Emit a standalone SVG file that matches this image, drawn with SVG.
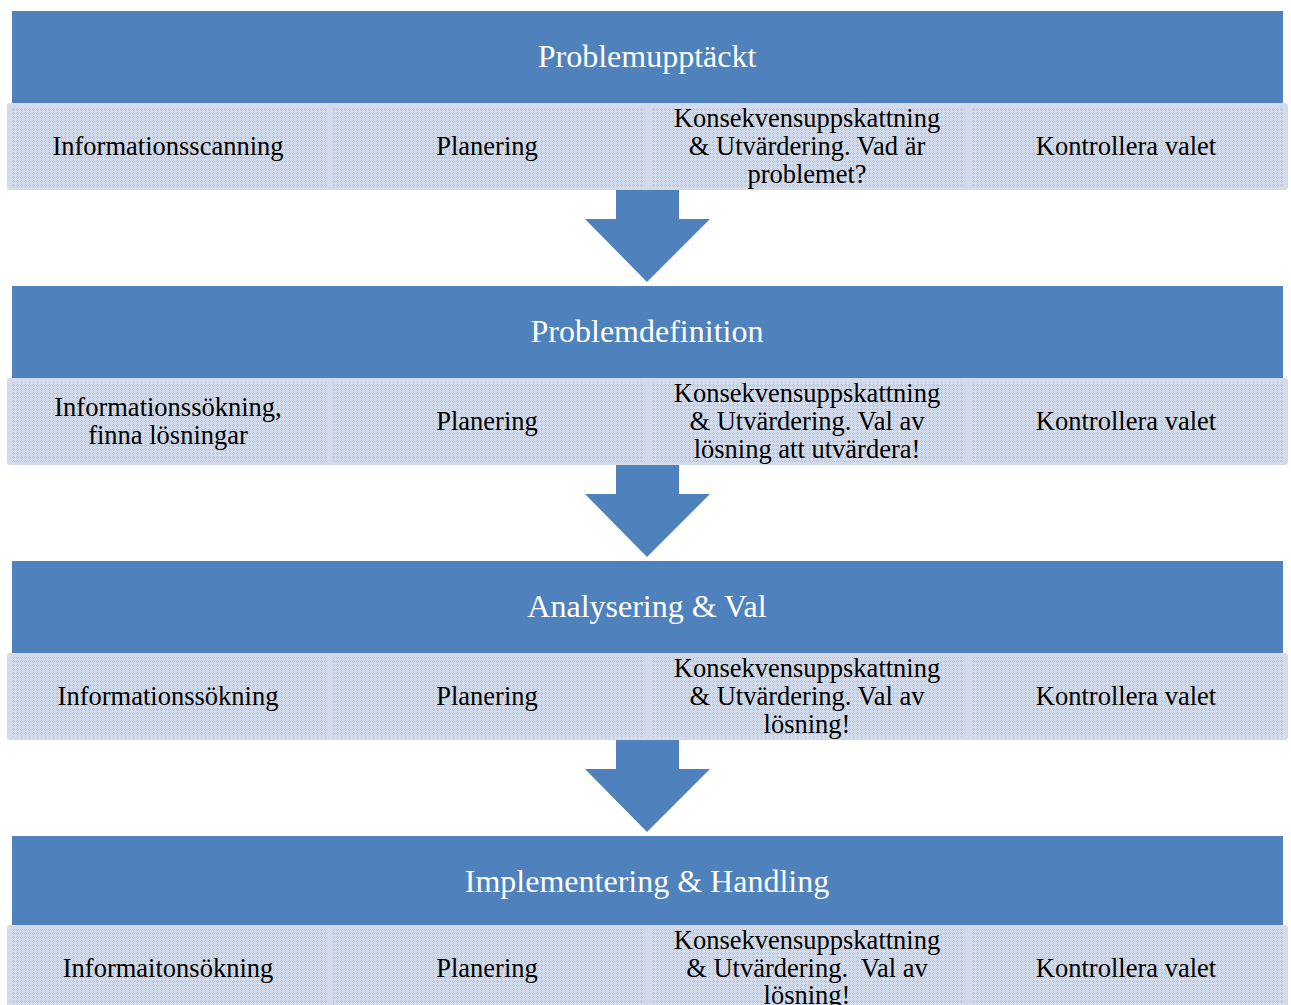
<svg xmlns="http://www.w3.org/2000/svg" width="1291" height="1005" viewBox="0 0 1291 1005">
<defs>
<pattern id="dots" width="4" height="4" patternUnits="userSpaceOnUse">
<rect width="4" height="4" fill="#d3dcec"/>
<rect x="1" y="0" width="1" height="1" fill="#b0c2e2"/>
<rect x="0" y="1" width="1" height="1" fill="#b0c2e2"/>
<rect x="2" y="1" width="1" height="1" fill="#b0c2e2"/>
<rect x="1" y="2" width="1" height="1" fill="#b0c2e2"/>
</pattern>
</defs>
<style>
.hdr{fill:#4f81bd}
.panel{fill:#d3dbea}
.cell{fill:url(#dots)}
.arrow{fill:#4f81bd}
.ht{font-family:"Liberation Serif","Times New Roman",serif;font-size:32px;fill:#ffffff;text-anchor:middle}
.ct{font-family:"Liberation Serif","Times New Roman",serif;font-size:26.5px;fill:#000000;text-anchor:middle}
</style>
<rect width="1291" height="1005" fill="#ffffff"/>
<g id="connectors">
<polygon class="arrow" points="616,190 679,190 679,219 710,219 647,282 585,219 616,219"/>
<polygon class="arrow" points="616,465 679,465 679,494 710,494 647,557 585,494 616,494"/>
<polygon class="arrow" points="616,740 679,740 679,769 710,769 647,832 585,769 616,769"/>
</g>
<g id="stage1">
<rect class="hdr" x="12" y="11" width="1271" height="92"/>
<text class="ht" x="647" y="67">Problemupptäckt</text>
<rect class="panel" x="7" y="103" width="1281" height="87" rx="3"/>
<rect class="cell" x="12" y="107" width="315" height="80"/>
<rect class="cell" x="333" y="107" width="312" height="80"/>
<rect class="cell" x="651" y="107" width="314" height="80"/>
<rect class="cell" x="971" y="107" width="313" height="80"/>
<text class="ct" x="168" y="155">Informationsscanning</text>
<text class="ct" x="487" y="155">Planering</text>
<text class="ct" x="807" y="127">Konsekvensuppskattning</text>
<text class="ct" x="807" y="155">&amp; Utvärdering. Vad är</text>
<text class="ct" x="807" y="183">problemet?</text>
<text class="ct" x="1126" y="155">Kontrollera valet</text>
</g>
<g id="stage2">
<rect class="hdr" x="12" y="286" width="1271" height="92"/>
<text class="ht" x="647" y="342">Problemdefinition</text>
<rect class="panel" x="7" y="378" width="1281" height="87" rx="3"/>
<rect class="cell" x="12" y="382" width="315" height="80"/>
<rect class="cell" x="333" y="382" width="312" height="80"/>
<rect class="cell" x="651" y="382" width="314" height="80"/>
<rect class="cell" x="971" y="382" width="313" height="80"/>
<text class="ct" x="168" y="416">Informationssökning,</text>
<text class="ct" x="168" y="444">finna lösningar</text>
<text class="ct" x="487" y="430">Planering</text>
<text class="ct" x="807" y="402">Konsekvensuppskattning</text>
<text class="ct" x="807" y="430">&amp; Utvärdering. Val av</text>
<text class="ct" x="807" y="458">lösning att utvärdera!</text>
<text class="ct" x="1126" y="430">Kontrollera valet</text>
</g>
<g id="stage3">
<rect class="hdr" x="12" y="561" width="1271" height="92"/>
<text class="ht" x="647" y="617">Analysering &amp; Val</text>
<rect class="panel" x="7" y="653" width="1281" height="87" rx="3"/>
<rect class="cell" x="12" y="657" width="315" height="80"/>
<rect class="cell" x="333" y="657" width="312" height="80"/>
<rect class="cell" x="651" y="657" width="314" height="80"/>
<rect class="cell" x="971" y="657" width="313" height="80"/>
<text class="ct" x="168" y="705">Informationssökning</text>
<text class="ct" x="487" y="705">Planering</text>
<text class="ct" x="807" y="677">Konsekvensuppskattning</text>
<text class="ct" x="807" y="705">&amp; Utvärdering. Val av</text>
<text class="ct" x="807" y="733">lösning!</text>
<text class="ct" x="1126" y="705">Kontrollera valet</text>
</g>
<g id="stage4">
<rect class="hdr" x="12" y="836" width="1271" height="89"/>
<text class="ht" x="647" y="892">Implementering &amp; Handling</text>
<rect class="panel" x="7" y="925" width="1281" height="87" rx="3"/>
<rect class="cell" x="12" y="929" width="315" height="80"/>
<rect class="cell" x="333" y="929" width="312" height="80"/>
<rect class="cell" x="651" y="929" width="314" height="80"/>
<rect class="cell" x="971" y="929" width="313" height="80"/>
<text class="ct" x="168" y="977">Informaitonsökning</text>
<text class="ct" x="487" y="977">Planering</text>
<text class="ct" x="807" y="949">Konsekvensuppskattning</text>
<text class="ct" x="807" y="977" xml:space="preserve">&amp; Utvärdering.  Val av</text>
<text class="ct" x="807" y="1004">lösning!</text>
<text class="ct" x="1126" y="977">Kontrollera valet</text>
</g>
</svg>
